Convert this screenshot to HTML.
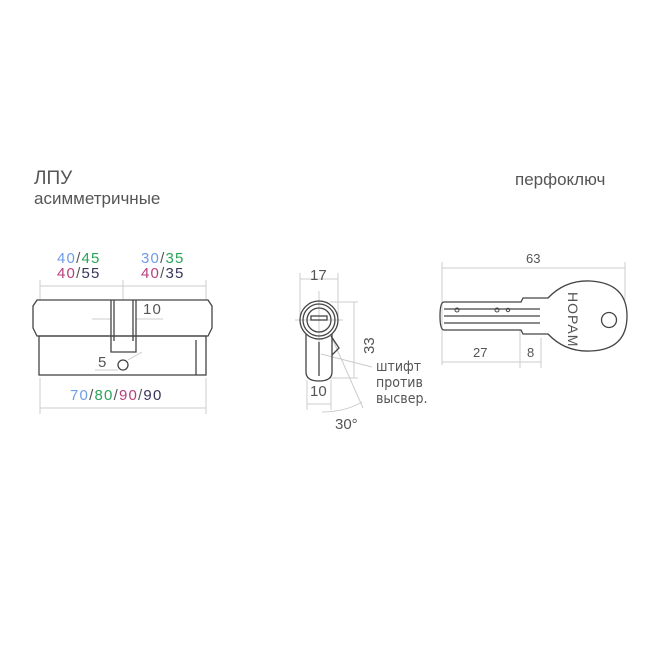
<!DOCTYPE html>
<html><head><meta charset="utf-8"><style>
body{margin:0;background:#fff;}
svg{display:block;font-family:"Liberation Sans","DejaVu Sans",sans-serif;}
</style></head><body>
<svg width="650" height="650" viewBox="0 0 650 650">
<text x="34" y="184" font-size="19" fill="#555">ЛПУ</text>
<text x="34" y="204" font-size="17" fill="#555">асимметричные</text>
<text x="515" y="185" font-size="17" fill="#555">перфоключ</text>

<g font-size="15" letter-spacing="1.2">
<text x="57" y="263"><tspan fill="#6f9be6">40</tspan><tspan fill="#555">/</tspan><tspan fill="#2aa35a">45</tspan></text>
<text x="57" y="278"><tspan fill="#b5407e">40</tspan><tspan fill="#555">/</tspan><tspan fill="#353558">55</tspan></text>
<text x="141" y="263"><tspan fill="#6f9be6">30</tspan><tspan fill="#555">/</tspan><tspan fill="#2aa35a">35</tspan></text>
<text x="141" y="278"><tspan fill="#b5407e">40</tspan><tspan fill="#555">/</tspan><tspan fill="#353558">35</tspan></text>
<text x="70" y="400"><tspan fill="#6f9be6">70</tspan><tspan fill="#555">/</tspan><tspan fill="#2aa35a">80</tspan><tspan fill="#555">/</tspan><tspan fill="#b5407e">90</tspan><tspan fill="#555">/</tspan><tspan fill="#353558">90</tspan></text>
<text x="143" y="314" fill="#555">10</text>
<text x="98" y="367" fill="#555">5</text>
</g>
<g stroke="#ccc" stroke-width="1" fill="none">
<line x1="40" y1="286" x2="206" y2="286"/><line x1="40" y1="280" x2="40" y2="300"/><line x1="123" y1="280" x2="123" y2="300"/><line x1="206" y1="280" x2="206" y2="300"/>
<line x1="40" y1="408" x2="206" y2="408"/><line x1="40" y1="378" x2="40" y2="414"/><line x1="206" y1="378" x2="206" y2="414"/>
<line x1="92" y1="319" x2="111" y2="319"/><line x1="136" y1="319" x2="163" y2="319"/>
<line x1="95" y1="370" x2="118" y2="370"/><line x1="128" y1="360" x2="142" y2="352"/>
</g>
<g stroke="#444" stroke-width="1.3" fill="none">
<path d="M37 300 H208 L212 306 V328 L208 336 H37 L33 328 V306 Z"/>
<rect x="39" y="336" width="167" height="39"/>
<path d="M111 300 V352 H136 V300"/>
<line x1="114" y1="300" x2="114" y2="341"/><line x1="133" y1="300" x2="133" y2="341"/>
<circle cx="123" cy="365" r="5"/>
<line x1="196" y1="340" x2="196" y2="375"/>
</g>

<g stroke="#ccc" stroke-width="1" fill="none">
<line x1="300" y1="279" x2="338" y2="279"/><line x1="300" y1="273" x2="300" y2="316"/><line x1="338" y1="273" x2="338" y2="316"/>
<line x1="354" y1="302" x2="354" y2="378"/><line x1="330" y1="302" x2="358" y2="302"/><line x1="330" y1="378" x2="358" y2="378"/>
<line x1="307" y1="404" x2="331" y2="404"/><line x1="307" y1="380" x2="307" y2="410"/><line x1="331" y1="380" x2="331" y2="410"/>
<line x1="319" y1="291" x2="319" y2="350"/><line x1="295" y1="320" x2="343" y2="320"/>
<line x1="321" y1="354" x2="372" y2="367"/>
<line x1="332" y1="338" x2="363" y2="408"/>
<path d="M322 412 Q345 412 362 402"/>
</g>
<g stroke="#444" stroke-width="1.3" fill="none">
<circle cx="319" cy="320" r="19"/><circle cx="319" cy="320" r="16"/><circle cx="319" cy="320" r="12"/>
<path d="M306 334 V372 Q306 381 319 381 Q332 381 332 372 V334"/>
<line x1="319" y1="342" x2="319" y2="376"/>
<path d="M331 336 L339 348 L332 355"/>
<rect x="311" y="316" width="16" height="4"/>
</g>
<g font-size="15" fill="#555">
<text x="310" y="280">17</text>
<text x="310" y="396">10</text>
<text x="335" y="429">30°</text>
<text transform="translate(374 340) rotate(-90)" x="-14" y="0">33</text>
</g>
<g font-size="14" fill="#555" font-family="'DejaVu Sans Condensed','DejaVu Sans',sans-serif">
<text x="376" y="371">штифт</text>
<text x="376" y="387">против</text>
<text x="376" y="403">высвер.</text>
</g>

<g stroke="#ccc" stroke-width="1" fill="none">
<line x1="442" y1="268" x2="625" y2="268"/><line x1="442" y1="262" x2="442" y2="365"/><line x1="625" y1="262" x2="625" y2="300"/>
<line x1="442" y1="362" x2="520" y2="362"/><line x1="520" y1="330" x2="520" y2="368"/><line x1="520" y1="362" x2="541" y2="362"/><line x1="541" y1="338" x2="541" y2="368"/>
</g>
<g stroke="#444" stroke-width="1.3" fill="none">
<path d="M444 302 H521 L523 298 H548 Q565 280 590 281 Q627 283 627 316 Q627 350 590 351 Q565 352 548 334 H523 L521 330 H444 Q440 330 440 316 Q440 302 444 302 Z"/>
<line x1="444" y1="309" x2="540" y2="309"/><line x1="444" y1="316" x2="540" y2="316"/><line x1="444" y1="323" x2="540" y2="323"/>
<circle cx="609" cy="320" r="7.5"/>
<circle cx="457" cy="310" r="2" stroke-width="1"/><circle cx="497" cy="310" r="2" stroke-width="1"/><circle cx="508" cy="310" r="1.7" stroke-width="1"/>
</g>
<text transform="translate(568 292) rotate(90)" font-size="14" fill="#555" letter-spacing="1">НОРАМ</text>
<g font-size="13" fill="#555">
<text x="526" y="263">63</text>
<text x="473" y="357">27</text>
<text x="527" y="357">8</text>
</g>
</svg>
</body></html>
